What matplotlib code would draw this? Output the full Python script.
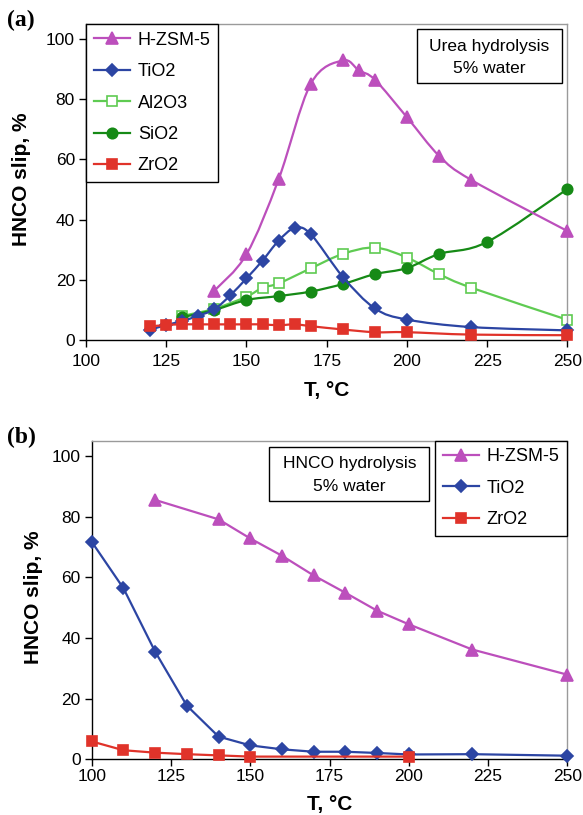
import numpy as np
import matplotlib
matplotlib.use("Agg")
import matplotlib.pyplot as plt
from matplotlib.path import Path
from matplotlib.patches import PathPatch, Rectangle
from matplotlib.lines import Line2D

# ---------------- data: panel (a) urea hydrolysis ----------------
a_hzsm_T = [140, 150, 160, 170, 180, 185, 190, 200, 210, 220, 250]
a_hzsm_y = [16.4, 28.5, 53.4, 85.1, 92.9, 89.6, 86.5, 74.0, 61.2, 53.2, 36.2]

a_tio2_T = [120, 125, 130, 135, 140, 145, 150, 155, 160, 165, 170, 180, 190, 200, 220, 250]
a_tio2_y = [3.4, 5.0, 6.3, 8.1, 10.2, 14.9, 20.5, 26.4, 33.0, 37.2, 35.2, 21.0, 10.5, 6.8, 4.3, 3.2]

a_al2o3_T = [130, 140, 150, 155, 160, 170, 180, 190, 200, 210, 220, 250]
a_al2o3_y = [8.0, 10.4, 14.4, 17.4, 18.8, 23.8, 28.6, 30.7, 27.4, 21.9, 17.4, 6.7]

a_sio2_T = [130, 140, 150, 160, 170, 180, 190, 200, 210, 225, 250]
a_sio2_y = [7.6, 10.0, 13.3, 14.6, 16.1, 18.6, 21.9, 23.9, 28.6, 32.6, 50.2]

a_zro2_T = [120, 125, 130, 135, 140, 145, 150, 155, 160, 165, 170, 180, 190, 200, 220, 250]
a_zro2_y = [4.5, 5.0, 5.2, 5.2, 5.2, 5.2, 5.2, 5.2, 4.9, 5.2, 4.6, 3.5, 2.6, 2.6, 1.8, 1.6]

# ---------------- data: panel (b) HNCO hydrolysis ----------------
b_hzsm_T = [120, 140, 150, 160, 170, 180, 190, 200, 220, 250]
b_hzsm_y = [85.5, 79.1, 72.8, 67.1, 60.6, 54.9, 49.0, 44.5, 36.2, 27.9]

b_tio2_T = [100, 110, 120, 130, 140, 150, 160, 170, 180, 190, 200, 220, 250]
b_tio2_y = [71.7, 56.4, 35.5, 17.7, 7.5, 4.6, 3.3, 2.5, 2.5, 2.1, 1.6, 1.7, 1.2]

b_zro2_T = [100, 110, 120, 130, 140, 150, 200]
b_zro2_y = [5.9, 3.0, 2.2, 1.7, 1.3, 0.9, 0.9]

x_ticks = [100, 125, 150, 175, 200, 225, 250]
y_ticks = [0, 20, 40, 60, 80, 100]

C_HZSM = "#BC4FBC"
C_TIO2 = "#2C45A3"
C_AL = "#5FCB52"
C_SIO2 = "#168A16"
C_ZRO2 = "#E0332A"

FONT = "Liberation Sans"
plt.rcParams["font.family"] = [FONT, "DejaVu Sans"]


def smooth_path(x, y):
    pts = np.column_stack([np.asarray(x, float), np.asarray(y, float)])
    verts = [pts[0]]
    codes = [Path.MOVETO]
    n = len(pts)
    for i in range(n - 1):
        p0 = pts[i - 1] if i > 0 else pts[i]
        p1 = pts[i]
        p2 = pts[i + 1]
        p3 = pts[i + 2] if i + 2 < n else pts[i + 1]
        c1 = p1 + (p2 - p0) / 6.0
        c2 = p2 - (p3 - p1) / 6.0
        verts += [c1, c2, p2]
        codes += [Path.CURVE4] * 3
    return Path(verts, codes)


def series(ax, x, y, color, marker, ms, mfc=None, smooth=True, z=2):
    if smooth:
        ax.add_patch(PathPatch(smooth_path(x, y), facecolor="none", edgecolor=color,
                               lw=1.6, zorder=z))
    else:
        ax.plot(x, y, color=color, lw=1.6, zorder=z)
    ax.plot(x, y, ls="none", marker=marker, ms=ms, color=color,
            mfc=mfc if mfc else color, mec=color, mew=1.2, zorder=z + 0.5, clip_on=False)


def style_axes(ax, xpad, xlab_y, ylab_x):
    ax.set_xlim(100, 250)
    ax.set_ylim(0, 105)
    ax.set_xticks(x_ticks)
    ax.set_yticks(y_ticks)
    ax.tick_params(axis="y", direction="out", length=5, width=1, labelsize=12.5, pad=3)
    ax.tick_params(axis="x", direction="out", length=5, width=1, labelsize=12.5, pad=xpad)
    for s in ("left", "bottom"):
        ax.spines[s].set_color("black")
        ax.spines[s].set_linewidth(1.0)
    for s in ("top", "right"):
        ax.spines[s].set_color("#9a9a9a")
        ax.spines[s].set_linewidth(1.0)
    ax.set_xlabel("T, °C", fontsize=15, fontweight="bold")
    ax.set_ylabel("HNCO slip, %", fontsize=15, fontweight="bold")
    ax.xaxis.set_label_coords(0.5, xlab_y)
    ax.yaxis.set_label_coords(ylab_x, 0.51)
    ax.xaxis.label.set_va("center")
    ax.yaxis.label.set_va("center")


def handle(color, marker, ms, mfc=None):
    return Line2D([], [], color=color, lw=1.6, marker=marker, ms=ms,
                  mfc=mfc if mfc else color, mec=color, mew=1.2)


def note_box(ax, x0, y0, x1, y1, cx, cy, txt):
    ax.add_patch(Rectangle((x0, y0), x1 - x0, y1 - y0, transform=ax.transAxes,
                           fc="white", ec="black", lw=1.0, zorder=8))
    ax.text(cx, cy, txt, transform=ax.transAxes, ha="center", va="center",
            fontsize=12.5, linespacing=1.65, zorder=9)


LEG_KW = dict(borderaxespad=0, fontsize=13, frameon=True, fancybox=False,
              edgecolor="black", handlelength=2.0, handletextpad=0.45,
              labelspacing=0.8, borderpad=0.42, framealpha=1)

fig = plt.figure(figsize=(5.83, 8.15), dpi=100)

# ---------------- panel (a) ----------------
ax1 = fig.add_axes([0.1475, 0.5828, 0.8259, 0.3877])
style_axes(ax1, 5, -0.161, -0.133)
series(ax1, a_al2o3_T, a_al2o3_y, C_AL, "s", 7, mfc="white", z=2)
series(ax1, a_sio2_T, a_sio2_y, C_SIO2, "o", 7.5, z=3)
series(ax1, a_tio2_T, a_tio2_y, C_TIO2, "D", 6.5, z=4)
series(ax1, a_hzsm_T, a_hzsm_y, C_HZSM, "^", 9, z=5)
series(ax1, a_zro2_T, a_zro2_y, C_ZRO2, "s", 7.5, z=6)

h1 = [handle(C_HZSM, "^", 9), handle(C_TIO2, "D", 6.5), handle(C_AL, "s", 7, "white"),
      handle(C_SIO2, "o", 7.5), handle(C_ZRO2, "s", 7.5)]
leg1 = ax1.legend(h1, ["H-ZSM-5", "TiO2", "Al2O3", "SiO2", "ZrO2"], loc="upper left", **LEG_KW)
leg1.get_frame().set_linewidth(1.0)
leg1.set_zorder(10)

note_box(ax1, 0.687, 0.814, 0.9886, 0.984, 0.838, 0.894, "Urea hydrolysis\n5% water")

# ---------------- panel (b) ----------------
ax2 = fig.add_axes([0.1573, 0.0683, 0.8158, 0.3909])
style_axes(ax2, 2, -0.143, -0.122)
series(ax2, b_tio2_T, b_tio2_y, C_TIO2, "D", 6.5, smooth=False, z=3)
series(ax2, b_zro2_T, b_zro2_y, C_ZRO2, "s", 7.5, smooth=False, z=4)
series(ax2, b_hzsm_T, b_hzsm_y, C_HZSM, "^", 9, smooth=False, z=5)

h2 = [handle(C_HZSM, "^", 9), handle(C_TIO2, "D", 6.5), handle(C_ZRO2, "s", 7.5)]
leg2 = ax2.legend(h2, ["H-ZSM-5", "TiO2", "ZrO2"], loc="upper right", **LEG_KW)
leg2.get_frame().set_linewidth(1.0)
leg2.set_zorder(10)

note_box(ax2, 0.373, 0.811, 0.710, 0.981, 0.5416, 0.892, "HNCO hydrolysis\n5% water")

fig.text(0.012, 0.9755, "(a)", fontsize=17, fontweight="bold",
         family=["Liberation Serif", "DejaVu Serif"], ha="left", va="center")
fig.text(0.012, 0.4635, "(b)", fontsize=17, fontweight="bold",
         family=["Liberation Serif", "DejaVu Serif"], ha="left", va="center")

fig.savefig("out.png", dpi=100)
